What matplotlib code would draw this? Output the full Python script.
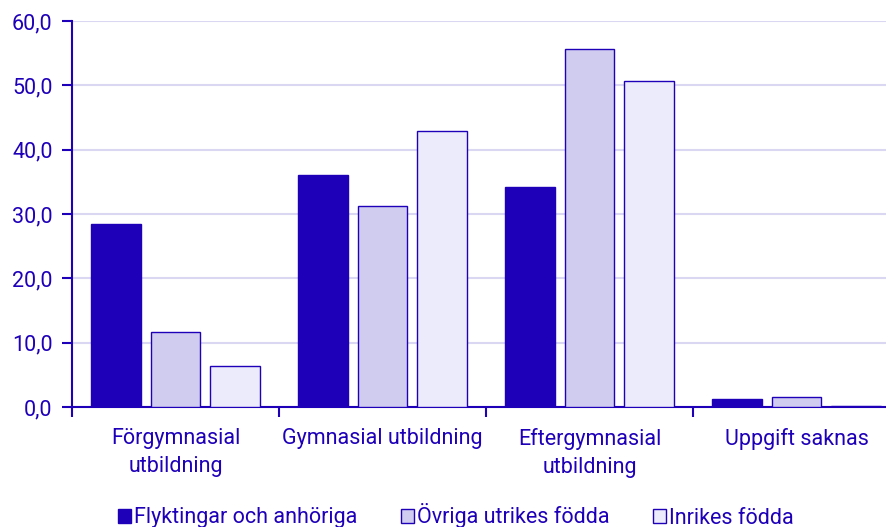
import matplotlib.pyplot as plt
import numpy as np
from matplotlib.ticker import FixedLocator, FuncFormatter

plt.rcParams["font.family"] = ["Roboto", "DejaVu Sans"]

categories = ["Förgymnasial\nutbildning", "Gymnasial utbildning",
              "Eftergymnasial\nutbildning", "Uppgift saknas"]
series_names = ["Flyktingar och anhöriga", "Övriga utrikes födda", "Inrikes födda"]
flyktingar = [28.5, 36.0, 34.2, 1.3]
ovriga = [11.6, 31.2, 55.6, 1.6]
inrikes = [6.3, 42.9, 50.6, 0.1]

blue = "#1F00B9"
fills = [blue, "#D0CCF0", "#ECEBFB"]
grid_col = "#D9D7F2"

fig = plt.figure(figsize=(8.87, 5.27), dpi=100)
ax = fig.add_axes([72 / 887, 1 - 407 / 527, 828 / 887, 386 / 527])

x = np.arange(len(categories))
w = 0.24
off = 0.287
for i, (vals, name) in enumerate(zip([flyktingar, ovriga, inrikes], series_names)):
    ax.bar(x + (i - 1) * off, vals, width=w, color=fills[i], edgecolor=blue,
           linewidth=1.0, label=name, zorder=3)

ax.set_xlim(-0.5, len(categories) - 0.5)
ax.set_ylim(0, 60)
ax.set_yticks(np.arange(0, 61, 10))
ax.yaxis.set_major_formatter(FuncFormatter(lambda v, p: f"{v:.1f}".replace(".", ",")))
ax.yaxis.grid(True, color=grid_col, linewidth=1.5, zorder=0)
ax.set_axisbelow(True)

ax.set_xticks(x)
ax.set_xticklabels(categories, linespacing=1.45)
ax.xaxis.set_minor_locator(FixedLocator(np.arange(-0.5, len(categories), 1.0)))
ax.tick_params(axis="x", which="major", length=0, pad=15, labelsize=15.5, labelcolor=blue)
ax.tick_params(axis="x", which="minor", length=7, width=1.5, color=blue)
ax.tick_params(axis="y", length=7, width=1.5, color=blue, labelsize=15.5,
               labelcolor=blue, pad=7)

for s in ["top", "right"]:
    ax.spines[s].set_visible(False)
for s in ["left", "bottom"]:
    ax.spines[s].set_color(blue)
    ax.spines[s].set_linewidth(1.5)

leg = fig.legend(loc="center", bbox_to_anchor=(456 / 887, 1 - 516 / 527), ncol=3,
                 frameon=False, fontsize=15.5, handlelength=0.6, handleheight=0.6,
                 handletextpad=0.15, columnspacing=2.0, borderpad=0)
for t in leg.get_texts():
    t.set_color(blue)

fig.savefig("out.png", dpi=100)
